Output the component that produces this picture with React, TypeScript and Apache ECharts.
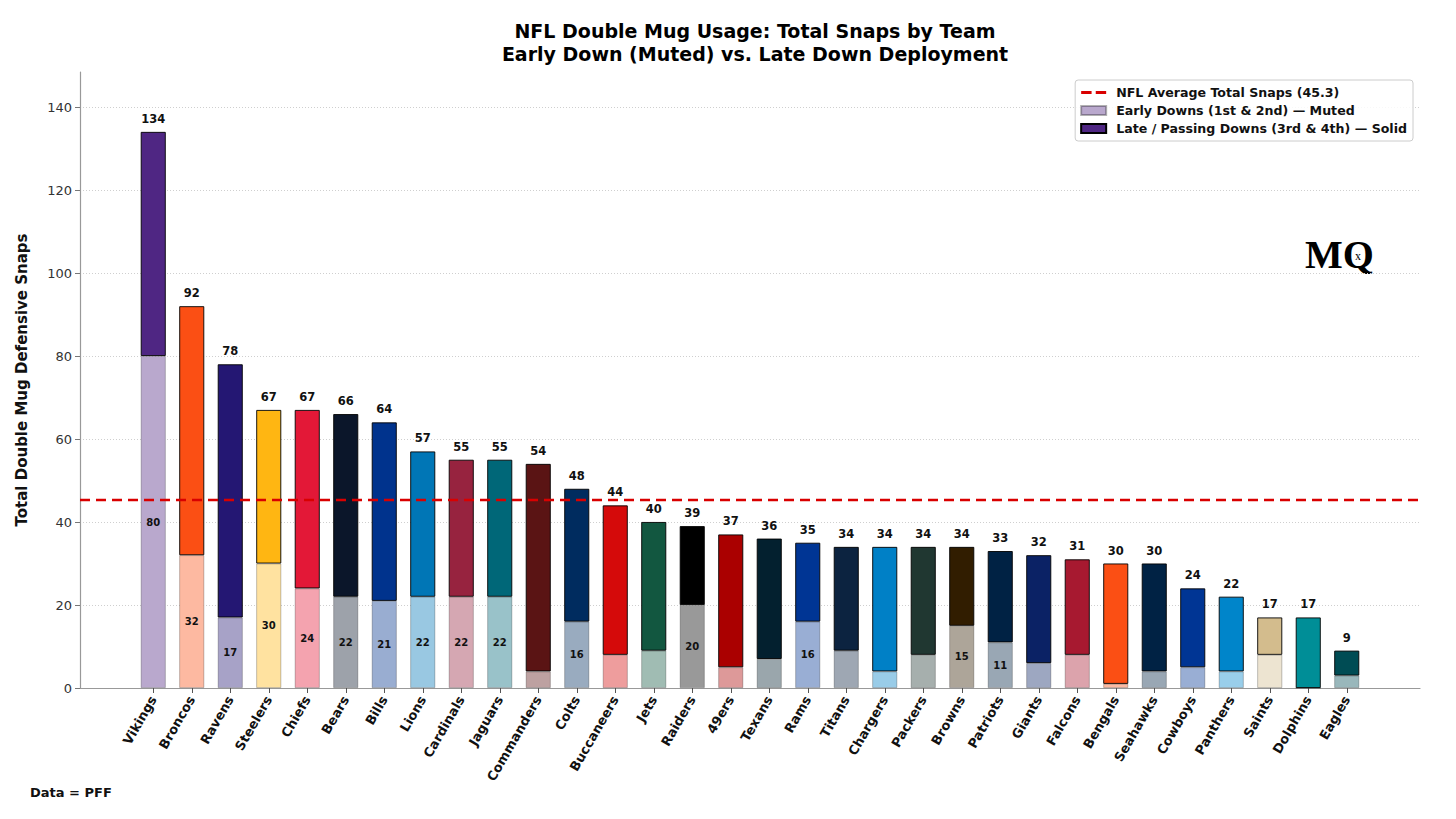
import React, { useEffect, useRef } from "react";
import * as echarts from "echarts";

const teams = ["Vikings","Broncos","Ravens","Steelers","Chiefs","Bears","Bills","Lions","Cardinals","Jaguars","Commanders","Colts","Buccaneers","Jets","Raiders","49ers","Texans","Rams","Titans","Chargers","Packers","Browns","Patriots","Giants","Falcons","Bengals","Seahawks","Cowboys","Panthers","Saints","Dolphins","Eagles"];
const totalSnaps = [134,92,78,67,67,66,64,57,55,55,54,48,44,40,39,37,36,35,34,34,34,34,33,32,31,30,30,24,22,17,17,9];
const earlySnaps = [80,32,17,30,24,22,21,22,22,22,4,16,8,9,20,5,7,16,9,4,8,15,11,6,8,1,4,5,4,8,0,3];
const teamColors = ["#4F2683","#FB4F14","#241773","#FFB612","#E31837","#0B162A","#00338D","#0076B6","#97233F","#006778","#5A1414","#002C5F","#D50A0A","#125740","#000000","#AA0000","#03202F","#003594","#0C2340","#0080C6","#203731","#311D00","#002244","#0B2265","#A71930","#FB4F14","#002244","#003594","#0085CA","#D3BC8D","#008E97","#004C54"];
const nflAverage = 45.3;
const yTicks = [0, 20, 40, 60, 80, 100, 120, 140];

function mute(hex: string, a = 0.4): string {
  const n = parseInt(hex.slice(1), 16);
  const r = (n >> 16) & 255, g = (n >> 8) & 255, b = n & 255;
  const m = (c: number) => Math.round(255 - a * (255 - c));
  return `rgb(${m(r)},${m(g)},${m(b)})`;
}

const FONT = "DejaVu Sans";

export default function App() {
  const ref = useRef<HTMLDivElement>(null);
  useEffect(() => {
    if (!ref.current) return;
    const chart = echarts.init(ref.current, null, { renderer: "svg" });
    const lateSnaps = totalSnaps.map((t, i) => t - earlySnaps[i]);
    const yMin = yTicks[0];
    const yMax = yTicks[yTicks.length - 1];
    const option: any = {
      animation: false,
      backgroundColor: "#ffffff",
      textStyle: { fontFamily: FONT },
      title: {
        text: "NFL Double Mug Usage: Total Snaps by Team\nEarly Down (Muted) vs. Late Down Deployment",
        left: 750,
        top: 14,
        textAlign: "center",
        textStyle: { fontFamily: FONT, fontSize: 19, fontWeight: "bold", color: "#000", lineHeight: 23 },
      },
      legend: {
        orient: "vertical",
        right: 43,
        top: 80,
        itemWidth: 25,
        itemHeight: 9,
        itemGap: 5,
        padding: [6, 6, 6, 5],
        borderColor: "#cccccc",
        borderWidth: 1,
        borderRadius: 3,
        backgroundColor: "rgba(255,255,255,0.85)",
        textStyle: { fontFamily: FONT, fontSize: 12.6, fontWeight: "bold", color: "#111", lineHeight: 13, padding: [0, 0, 0, 5] },
        data: [
          { name: "NFL Average Total Snaps (45.3)", icon: "path://M0,0h10v3h-10z M14,0h10v3h-10z", itemStyle: { color: "#D90000" } },
          { name: "Early Downs (1st & 2nd) — Muted", icon: "rect" },
          { name: "Late / Passing Downs (3rd & 4th) — Solid", icon: "rect" },
        ],
      },
      grid: [
        { left: 80, right: 36, top: 107, bottom: 131 },
        { left: 134, right: 90, top: 107, bottom: 131 },
        { left: 80, right: 36, top: 72, bottom: 131 },
      ],
      xAxis: [
        {
          type: "value", gridIndex: 0, min: 0, max: 1,
          axisLine: { show: true, lineStyle: { color: "#999", width: 1.2 } },
          axisTick: { show: false }, axisLabel: { show: false }, splitLine: { show: false },
        },
        {
          type: "category", gridIndex: 1, data: teams,
          axisLine: { show: false },
          axisTick: { show: true, alignWithLabel: true, length: 5, lineStyle: { color: "#555" } },
          axisLabel: { interval: 0, rotate: 60, margin: 9, fontFamily: FONT, fontSize: 13, fontWeight: "bold", color: "#111" },
        },
        {
          type: "value", gridIndex: 2, min: 0, max: 1, show: false,
        },
      ],
      yAxis: [
        {
          type: "value", gridIndex: 0, min: yMin, max: yMax, interval: 20,
          axisLine: { show: false },
          axisTick: { show: true, length: 5, lineStyle: { color: "#777" } },
          axisLabel: { fontFamily: FONT, fontSize: 13, color: "#333", margin: 8 },
          splitLine: { show: true, lineStyle: { color: "#cfcfcf", type: [1, 2], width: 1 } },
        },
        {
          type: "value", gridIndex: 1, min: yMin, max: yMax, interval: 20, show: false,
        },
        {
          type: "value", gridIndex: 2, min: 0, max: (688 - 72) / (581 / yMax),
          axisLine: { show: true, lineStyle: { color: "#999", width: 1.2 } },
          axisTick: { show: false }, axisLabel: { show: false }, splitLine: { show: false },
          name: "Total Double Mug Defensive Snaps",
          nameLocation: "middle",
          nameGap: 51,
          nameTextStyle: { fontFamily: FONT, fontSize: 15, fontWeight: "bold", color: "#111" },
        },
      ],
      series: [
        {
          name: "Early Downs (1st & 2nd) — Muted",
          type: "bar", xAxisIndex: 1, yAxisIndex: 1, stack: "snaps", barWidth: 25,
          itemStyle: { color: mute(teamColors[0]), borderColor: "rgba(0,0,0,0.3)", borderWidth: 0.8 },
          data: earlySnaps.map((v, i) => ({ value: v, itemStyle: { color: mute(teamColors[i]) } })),
          label: {
            show: true, position: "inside", fontFamily: FONT, fontSize: 10, fontWeight: "bold", color: "#111",
            formatter: (p: any) => (p.value >= 10 ? String(p.value) : ""),
          },
        },
        {
          name: "Late / Passing Downs (3rd & 4th) — Solid",
          type: "bar", xAxisIndex: 1, yAxisIndex: 1, stack: "snaps", barWidth: 25,
          itemStyle: { color: teamColors[0], borderColor: "#000", borderWidth: 0.9 },
          data: lateSnaps.map((v, i) => ({ value: v, itemStyle: { color: teamColors[i] } })),
          label: {
            show: true, position: "top", distance: 7, fontFamily: FONT, fontSize: 11.5, fontWeight: "bold", color: "#111",
            formatter: (p: any) => String(totalSnaps[p.dataIndex]),
          },
        },
        {
          name: "NFL Average Total Snaps (45.3)",
          type: "line", xAxisIndex: 0, yAxisIndex: 0, symbol: "none", z: 5,
          lineStyle: { color: "#D90000", width: 2.5, type: [10, 6] },
          itemStyle: { color: "#D90000" },
          data: [[0, nflAverage], [1, nflAverage]],
        },
      ],
      graphic: [
        {
          type: "text", left: 1305, top: 234,
          style: { text: "MQ", fontFamily: "Liberation Serif", fontSize: 40, fontWeight: "bold", fill: "#000" },
        },
        {
          type: "text", left: 1355, top: 250,
          style: { text: "x", fontFamily: "Liberation Serif", fontSize: 12, fill: "#000" },
        },
        {
          type: "text", left: 30, top: 786,
          style: { text: "Data = PFF", fontFamily: FONT, fontSize: 13, fontWeight: "bold", fill: "#111" },
        },
      ],
    };
    chart.setOption(option);
    return () => chart.dispose();
  }, []);
  return <div ref={ref} style={{ position: "fixed", left: 0, top: 0, width: 1456, height: 819 }} />;
}
